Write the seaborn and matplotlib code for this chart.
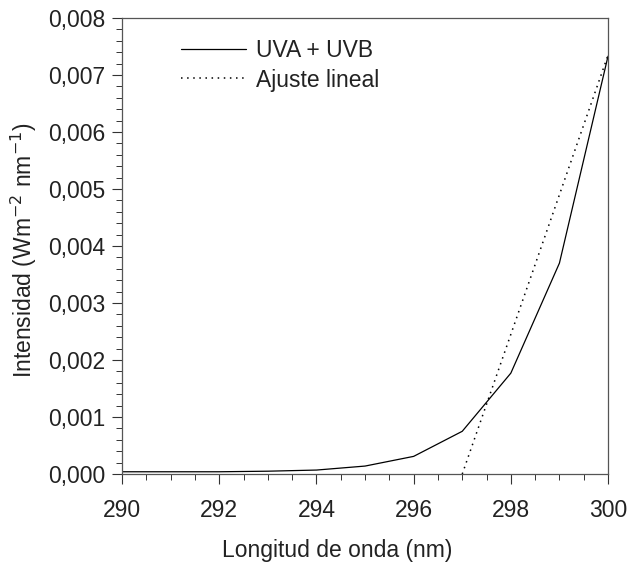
import numpy as np
import pandas as pd
import matplotlib
matplotlib.use("Agg")
import matplotlib.pyplot as plt
import matplotlib.ticker as mticker
import seaborn as sns

# UVA + UVB spectrum
wavelength = [290, 291, 292, 293, 294, 295, 296, 297, 298, 299, 300]
intensity = [0.00004, 0.00004, 0.00004, 0.00005, 0.00007, 0.00014,
             0.00031, 0.00075, 0.00177, 0.0037, 0.00733]

# linear fit endpoints
fit_x = [297.0, 300.0]
fit_y = [0.0, 0.00735]

sns.set_theme(style="ticks")
plt.rcParams['font.family'] = ['Liberation Sans', 'DejaVu Sans']

df = pd.DataFrame({'x': wavelength, 'y': intensity})
fit = pd.DataFrame({'x': fit_x, 'y': fit_y})

fig = plt.figure(figsize=(6.36, 5.63), dpi=100)
ax = fig.add_axes([0.192, 0.158, 0.764, 0.81])

sns.lineplot(data=df, x='x', y='y', ax=ax, color='black', linewidth=0.9,
             label='UVA + UVB')
sns.lineplot(data=fit, x='x', y='y', ax=ax, color='black', linewidth=1.1,
             linestyle=(0, (1, 3.0)), label='Ajuste lineal')

ax.set_xlim(290, 300)
ax.set_ylim(0, 0.008)
ax.xaxis.set_major_locator(mticker.MultipleLocator(2))
ax.xaxis.set_minor_locator(mticker.MultipleLocator(0.5))
ax.yaxis.set_major_locator(mticker.MultipleLocator(0.001))
ax.yaxis.set_minor_locator(mticker.MultipleLocator(0.0002))
ax.yaxis.set_major_formatter(mticker.FuncFormatter(lambda v, p: f"{v:.3f}".replace('.', ',')))

ax.tick_params(which='major', direction='out', length=7, width=0.8,
               labelsize=16.5, color='#333333', labelcolor='#222222')
ax.tick_params(axis='y', which='major', pad=5)
ax.tick_params(axis='x', which='major', pad=11)
ax.tick_params(which='minor', direction='out', length=4, width=0.7,
               color='#333333')
for s in ax.spines.values():
    s.set_color('#555555')
    s.set_linewidth(0.9)

ax.set_xlabel('Longitud de onda (nm)', fontsize=16.5, color='#222222')
ax.xaxis.set_label_coords(0.442, -0.142)
ax.set_ylabel('Intensidad (Wm$^{-2}$ nm$^{-1}$)', fontsize=16.5,
              color='#222222')
ax.yaxis.set_label_coords(-0.172, 0.49)

ax.legend(loc='upper left', bbox_to_anchor=(0.078, 1.0), frameon=False,
          fontsize=16.5, handlelength=2.85, handletextpad=0.45,
          labelspacing=0.3, labelcolor='#222222')

fig.savefig('out.png', dpi=100)
